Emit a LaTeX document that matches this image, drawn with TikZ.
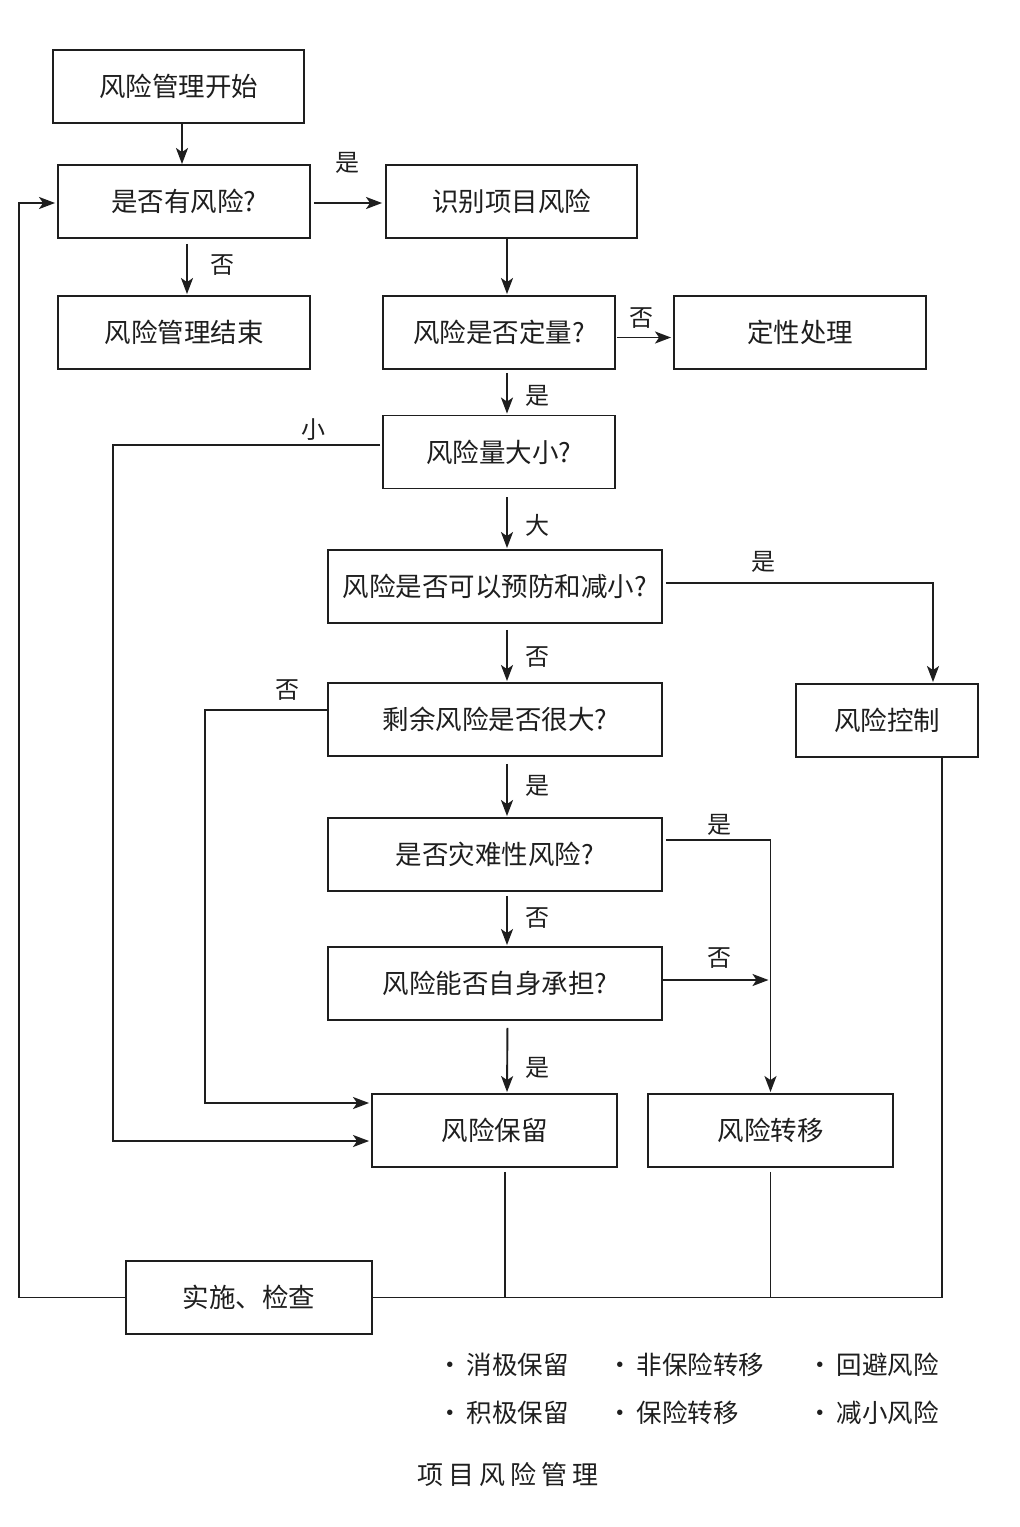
\documentclass[tikz,border=0pt]{standalone}
\usepackage{fontspec}
\setmainfont{Noto Sans CJK SC}
\usetikzlibrary{arrows.meta}
\definecolor{ink}{HTML}{1E1E1E}
\begin{document}
\begin{tikzpicture}[x=1pt,y=-1pt,
  box/.style={draw=ink, line width=1.9pt, minimum height=73pt, inner sep=0pt, text=ink,
    font=\fontsize{26.5}{30}\selectfont},
  arr/.style={draw=ink, line width=1.9pt, -{Stealth[length=16pt,width=12pt,inset=4pt]}},
  wire/.style={draw=ink, line width=1.9pt},
  thin/.style={draw=ink, line width=1.3pt},
  lbl/.style={inner sep=0pt, text=ink, font=\fontsize{24}{28}\selectfont},
  leg/.style={inner sep=0pt, anchor=west, text=ink, font=\fontsize{25.5}{29}\selectfont}]
\useasboundingbox[fill=white] (0,0) rectangle (1020,1527);

% boxes
\node[box, minimum width=251] (start) at (178.5,86.5) {风险管理开始};
\node[box, minimum width=252] (q1)    at (184,201.5)  {是否有风险?};
\node[box, minimum width=251] (ident) at (511.5,201.5) {识别项目风险};
\node[box, minimum width=252] (fin)   at (184,332.5)  {风险管理结束};
\node[box, minimum width=232] (quant) at (499,332.5)  {风险是否定量?};
\node[box, minimum width=252] (qual)  at (800,332.5)  {定性处理};
\node[box, minimum width=232] (size)  at (499,452)    {风险量大小?};
\node[box, minimum width=334] (prev)  at (495,586.5)  {风险是否可以预防和减小?};
\node[box, minimum width=182] (ctrl)  at (887,720.5)  {风险控制};
\node[box, minimum width=334] (resid) at (495,719.5)  {剩余风险是否很大?};
\node[box, minimum width=334] (cata)  at (495,854.5)  {是否灾难性风险?};
\node[box, minimum width=334] (self)  at (495,983.5)  {风险能否自身承担?};
\node[box, minimum width=245] (keep)  at (494.5,1130.5) {风险保留};
\node[box, minimum width=245] (trans) at (770.5,1130.5) {风险转移};
\node[box, minimum width=246] (impl)  at (249,1297.5) {实施、检查};

% connectors
\draw[arr] ([xshift=3.5pt]start.south) -- ([xshift=-2pt]q1.north);
\draw[arr, shorten <=3pt, shorten >=3pt] ([yshift=-1.5pt]q1.east) -- ([yshift=-1.5pt]ident.west);
\draw[arr, shorten <=5pt, shorten >=1pt] ([xshift=3pt]q1.south) -- ([xshift=3pt]fin.north);
\draw[arr, shorten >=1pt] ([xshift=-4.5pt]ident.south) -- ([xshift=8pt]quant.north);
\draw[arr, shorten <=1pt, shorten >=2pt] ([yshift=-5pt]quant.east) -- ([yshift=-5pt]qual.west);
\draw[arr, shorten <=3pt, shorten >=1pt] ([xshift=8pt]quant.south) -- ([xshift=8pt]size.north);
\draw[arr, shorten <=2pt, shorten >=2pt] ([yshift=7pt]size.west) -- ++(-269,0) |- ([yshift=-10.5pt]keep.west);
\draw[arr, shorten <=8pt, shorten >=1pt] ([xshift=8pt]size.south) -- ([xshift=12pt]prev.north);
\draw[arr, shorten <=3pt, shorten >=1pt] ([yshift=3.5pt]prev.east) -| ([xshift=46pt]ctrl.north);
\draw[arr, shorten <=6pt, shorten >=1pt] ([xshift=12pt]prev.south) -- ([xshift=12pt]resid.north);
\draw[arr, shorten >=2pt] ([yshift=9.5pt]resid.west) -- ++(-122,0) |- ([yshift=27.5pt]keep.west);
\draw[arr, shorten <=7pt, shorten >=1pt] ([xshift=12pt]resid.south) -- ([xshift=12pt]cata.north);
\draw[arr, shorten <=3pt, shorten >=1pt] ([yshift=14.5pt]cata.east) -| (trans.north);
\draw[arr, shorten <=4pt, shorten >=1pt] ([xshift=12pt]cata.south) -- ([xshift=12pt]self.north);
\coordinate (sE) at ([yshift=3.5pt]self.east);
\draw[arr, shorten >=2pt] (sE) -- (sE -| trans.north);
\draw[arr, shorten <=7pt, shorten >=1pt] ([xshift=12.5pt]self.south) -- ([xshift=12.5pt]keep.north);
\coordinate (kb) at ([xshift=10.5pt,yshift=-4pt]keep.south);
\draw[thin] (kb) -- (kb |- impl.east);
\coordinate (tb) at ([yshift=-4pt]trans.south);
\draw[thin] (tb) -- (tb |- impl.east);
\draw[wire] ([xshift=55pt]ctrl.south) |- (impl.east);
\draw[arr, shorten >=2pt] (impl.west) -- ++(-106,0) |- ([yshift=-1.5pt]q1.west);

% connector labels
\node[lbl] (l1) at (347,163) {是};
\node[lbl] (l2) at (222,265) {否};
\node[lbl] (l3) at (641,318) {否};
\node[lbl] (l4) at (537,396) {是};
\node[lbl] (l5) at (313,430) {小};
\node[lbl] (l6) at (537,525) {大};
\node[lbl] (l7) at (763,562) {是};
\node[lbl] (l8) at (537,657) {否};
\node[lbl] (l9) at (287,690) {否};
\node[lbl] (l10) at (537,786) {是};
\node[lbl] (l11) at (719,825) {是};
\node[lbl] (l12) at (537,918) {否};
\node[lbl] (l13) at (719,958) {否};
\node[lbl] (l14) at (537,1068) {是};

% legend
\node[leg] (g1) at (437,1365) {·\,消极保留};
\node[leg] (g2) at (607,1365) {·\,非保险转移};
\node[leg] (g3) at (807,1365) {·\,回避风险};
\node[leg] (g4) at (437,1413) {·\,积极保留};
\node[leg] (g5) at (607,1413) {·\,保险转移};
\node[leg] (g6) at (807,1413) {·\,减小风险};

% caption
\node[inner sep=0pt, text=ink, font=\fontsize{26}{30}\selectfont] (cap) at (508,1475)
  {项\hspace{5pt}目\hspace{5pt}风\hspace{5pt}险\hspace{5pt}管\hspace{5pt}理};
\end{tikzpicture}
\end{document}
